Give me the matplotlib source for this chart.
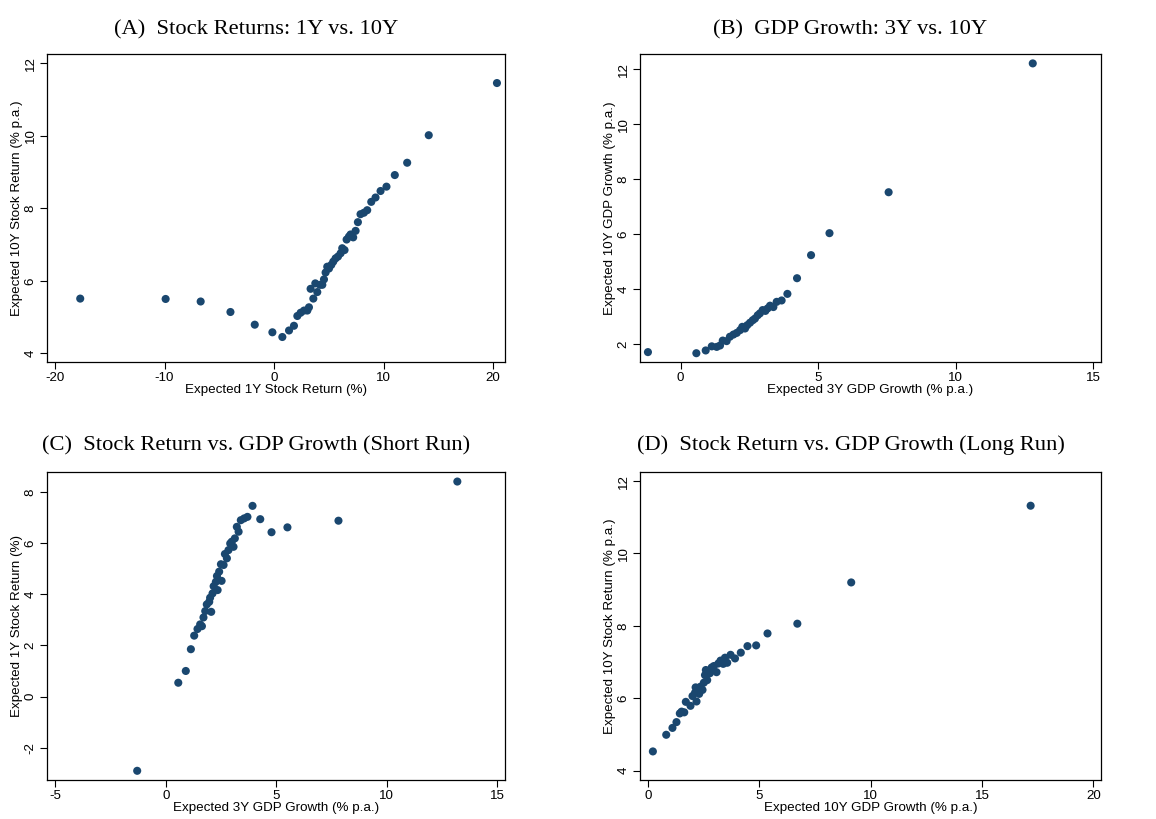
import numpy as np
import matplotlib
matplotlib.use("Agg")
import matplotlib.pyplot as plt

# Panel A: expected 1Y vs 10Y stock return
a_x = [-17.7, -9.9, -6.7, -3.98, -1.76, -0.15, 0.76, 1.37, 1.82, 2.13, 2.43, 2.74, 3.04,
       3.19, 3.34, 3.59, 3.77, 3.95, 4.19, 4.41, 4.56, 4.71, 4.86, 5.02, 5.23, 5.41, 5.62,
       5.84, 6.08, 6.23, 6.44, 6.63, 6.84, 6.99, 7.23, 7.45, 7.66, 7.90, 8.21, 8.51, 8.88,
       9.27, 9.73, 10.27, 11.03, 12.16, 14.13, 20.36]
a_y = [5.51, 5.50, 5.43, 5.14, 4.79, 4.58, 4.45, 4.63, 4.76, 5.03, 5.12, 5.18, 5.18,
       5.27, 5.78, 5.51, 5.93, 5.69, 5.89, 5.89, 6.04, 6.23, 6.39, 6.34, 6.44, 6.53, 6.62,
       6.67, 6.76, 6.90, 6.85, 7.14, 7.22, 7.28, 7.20, 7.38, 7.62, 7.84, 7.88, 7.95, 8.18,
       8.30, 8.48, 8.60, 8.92, 9.26, 10.02, 11.46]

# Panel B: expected 3Y vs 10Y GDP growth
b_x = [-1.19, 0.57, 0.91, 1.13, 1.31, 1.43, 1.53, 1.67, 1.79, 1.92, 2.04, 2.16, 2.24,
       2.34, 2.42, 2.52, 2.62, 2.70, 2.80, 2.88, 2.98, 3.08, 3.16, 3.25, 3.37, 3.49, 3.67,
       3.88, 4.23, 4.74, 5.41, 7.56, 12.80]
b_y = [1.70, 1.66, 1.76, 1.91, 1.89, 1.94, 2.12, 2.10, 2.26, 2.34, 2.40, 2.50, 2.62,
       2.56, 2.68, 2.77, 2.86, 2.92, 3.04, 3.11, 3.23, 3.20, 3.29, 3.39, 3.34, 3.53, 3.58,
       3.82, 4.39, 5.23, 6.03, 7.52, 12.21]

# Panel C: 3Y GDP growth vs 1Y stock return
c_x = [-1.30, 0.56, 0.90, 1.13, 1.28, 1.43, 1.55, 1.63, 1.70, 1.78, 1.85, 1.96, 2.05,
       2.00, 2.11, 2.16, 2.26, 2.34, 2.31, 2.41, 2.52, 2.49, 2.61, 2.67, 2.76, 2.83, 2.91,
       2.98, 3.06, 3.12, 3.21, 3.29, 3.39, 3.54, 3.69, 3.92, 4.27, 4.78, 5.50, 7.81, 13.19]
c_y = [-2.90, 0.54, 1.00, 1.85, 2.38, 2.64, 2.82, 2.75, 3.09, 3.34, 3.60, 3.70, 3.31,
       3.86, 4.03, 4.31, 4.48, 4.16, 4.71, 4.88, 4.52, 5.17, 5.14, 5.57, 5.40, 5.72, 5.98,
       6.05, 5.85, 6.18, 6.63, 6.44, 6.89, 6.96, 7.02, 7.45, 6.93, 6.42, 6.61, 6.87, 8.40]

# Panel D: 10Y GDP growth vs 10Y stock return
d_x = [0.21, 0.81, 1.09, 1.27, 1.42, 1.62, 1.50, 1.69, 1.90, 1.99, 2.10, 2.17, 2.13,
       2.29, 2.35, 2.44, 2.50, 2.55, 2.59, 2.65, 2.77, 2.85, 2.95, 3.07, 3.15, 3.25, 3.37,
       3.45, 3.55, 3.70, 3.90, 4.16, 4.46, 4.85, 5.36, 6.70, 9.12, 17.18]
d_y = [4.53, 4.99, 5.18, 5.34, 5.58, 5.61, 5.63, 5.90, 5.79, 6.06, 6.15, 5.91, 6.30,
       6.12, 6.32, 6.23, 6.43, 6.64, 6.78, 6.50, 6.69, 6.85, 6.89, 6.72, 6.96, 7.04, 6.95,
       7.12, 6.98, 7.20, 7.10, 7.26, 7.44, 7.46, 7.79, 8.06, 9.20, 11.32]

marker_color = "#1a476f"
fontsize = 9.6

fig = plt.figure(figsize=(11.56, 8.19), dpi=100)

panels = [
    dict(x=a_x, y=a_y, pos=[0.0407, 0.558, 0.3962, 0.376],
         title="(A)  Stock Returns: 1Y vs. 10Y", tx=0.2215, ty=0.963,
         xlabel="Expected 1Y Stock Return (%)", ylabel="Expected 10Y Stock Return (% p.a.)",
         xlim=(-20.73, 21.1), ylim=(3.76, 12.26), xticks=[-20, -10, 0, 10, 20], yticks=[4, 6, 8, 10, 12]),
    dict(x=b_x, y=b_y, pos=[0.5536, 0.558, 0.3988, 0.376],
         title="(B)  GDP Growth: 3Y vs. 10Y", tx=0.7353, ty=0.963,
         xlabel="Expected 3Y GDP Growth (% p.a.)", ylabel="Expected 10Y GDP Growth (% p.a.)",
         xlim=(-1.48, 15.28), ylim=(1.34, 12.55), xticks=[0, 5, 10, 15], yticks=[2, 4, 6, 8, 10, 12]),
    dict(x=c_x, y=c_y, pos=[0.0407, 0.0476, 0.3962, 0.376],
         title="(C)  Stock Return vs. GDP Growth (Short Run)", tx=0.2215, ty=0.455,
         xlabel="Expected 3Y GDP Growth (% p.a.)", ylabel="Expected 1Y Stock Return (%)",
         xlim=(-5.38, 15.35), ylim=(-3.26, 8.77), xticks=[-5, 0, 5, 10, 15], yticks=[-2, 0, 2, 4, 6, 8]),
    dict(x=d_x, y=d_y, pos=[0.5536, 0.0476, 0.3988, 0.376],
         title="(D)  Stock Return vs. GDP Growth (Long Run)", tx=0.7362, ty=0.456,
         xlabel="Expected 10Y GDP Growth (% p.a.)", ylabel="Expected 10Y Stock Return (% p.a.)",
         xlim=(-0.37, 20.34), ylim=(3.74, 12.25), xticks=[0, 5, 10, 15, 20], yticks=[4, 6, 8, 10, 12]),
]

for p in panels:
    ax = fig.add_axes(p["pos"])
    ax.scatter(p["x"], p["y"], s=34, color=marker_color, edgecolors="none", zorder=3)
    ax.set_xlim(p["xlim"])
    ax.set_ylim(p["ylim"])
    ax.set_xticks(p["xticks"])
    ax.set_yticks(p["yticks"])
    ax.set_xticklabels([str(t) for t in p["xticks"]], fontsize=fontsize, family="Liberation Sans")
    ax.set_yticklabels([str(t) for t in p["yticks"]], fontsize=fontsize, family="Liberation Sans",
                       rotation=90, va="center")
    ax.tick_params(direction="out", length=5, width=0.8, pad=2.5)
    for s in ax.spines.values():
        s.set_linewidth(0.9)
        s.set_color("black")
    ax.set_xlabel(p["xlabel"], fontsize=fontsize, family="Liberation Sans", labelpad=-0.5)
    ax.set_ylabel(p["ylabel"], fontsize=fontsize, family="Liberation Sans", labelpad=1)
    fig.text(p["tx"], p["ty"], p["title"], ha="center", va="center", fontsize=16.2,
             family="Liberation Serif")

plt.savefig("out.png", dpi=100)
